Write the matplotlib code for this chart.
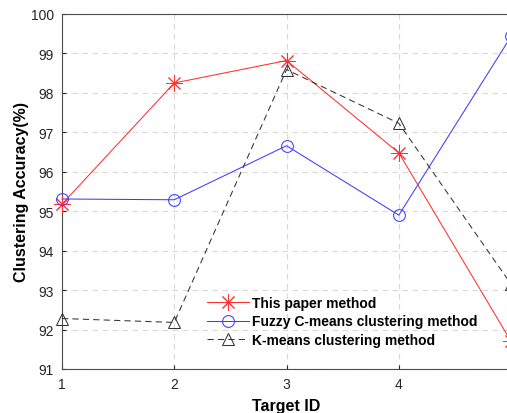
import matplotlib
matplotlib.use("Agg")
import matplotlib.pyplot as plt

plt.rcParams['font.family'] = ['Liberation Sans', 'DejaVu Sans']

target_ids = [1, 2, 3, 4, 5]
this_paper = [95.18, 98.25, 98.82, 96.48, 91.70]
fuzzy_cmeans = [95.31, 95.29, 96.66, 94.90, 99.43]
kmeans = [92.28, 92.18, 98.59, 97.23, 93.15]

x_ticks = [1, 2, 3, 4, 5]
x_tick_labels = ['1', '2', '3', '4', '']
y_ticks = [91, 92, 93, 94, 95, 96, 97, 98, 99, 100]

fig = plt.figure(figsize=(5.07, 4.14), dpi=100)
ax = fig.add_axes([0.1223, 0.1063, 0.8857, 0.8575])

ax.plot(target_ids, this_paper, color='#ff3030', lw=0.75, marker=(8, 2, 0),
        ms=12, mew=0.7, label='This paper method', clip_on=False, zorder=3)
ax.plot(target_ids, fuzzy_cmeans, color='#3c3cff', lw=0.75, marker='o',
        ms=8.5, mfc='none', mew=0.75, label='Fuzzy C-means clustering method',
        clip_on=False, zorder=3)
ax.plot(target_ids, kmeans, color='#333333', lw=0.75, ls=(0, (6, 4)), marker='^',
        ms=9, mfc='none', mew=0.75, label='K-means clustering method',
        clip_on=False, zorder=3)

ax.set_xlim(1, 5)
ax.set_ylim(91, 100)
ax.set_xticks(x_ticks)
ax.set_xticklabels(x_tick_labels)
ax.set_yticks(y_ticks)
ax.tick_params(direction='in', length=3, labelsize=10, colors='#262626',
               labelcolor='#262626', pad=6)
ax.grid(True, ls=(0, (5, 4)), color='#d9d9d9', lw=0.8)
ax.set_axisbelow(True)
for s in ax.spines.values():
    s.set_color('#4d4d4d')
    s.set_linewidth(0.8)

ax.set_xlabel('Target ID', fontsize=11.5, fontweight='bold', labelpad=5)
ax.set_ylabel('Clustering Accuracy(%)', fontsize=11.5, fontweight='bold', labelpad=1)

leg = ax.legend(loc='lower left', bbox_to_anchor=(0.323, 0.062), frameon=False,
                prop={'weight': 'bold', 'size': 10}, handlelength=3.0,
                labelspacing=0.33, handletextpad=0.25, borderaxespad=0,
                borderpad=0)

fig.savefig('out.png', dpi=100)
